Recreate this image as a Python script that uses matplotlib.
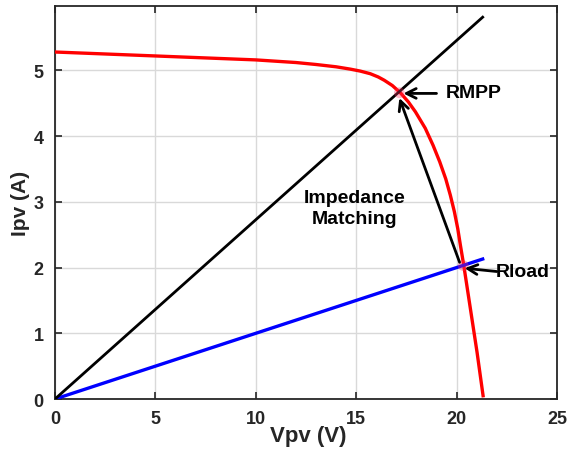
import matplotlib
matplotlib.use("Agg")
import matplotlib.pyplot as plt
import numpy as np

# ---- data ----
pv_v = [0, 5, 10, 11, 12, 13, 14, 14.7, 15.2, 15.7, 16.1, 16.4, 16.8, 17.2, 17.6, 17.95,
        18.44, 18.83, 19.16, 19.46, 19.69, 19.89, 20.06, 20.19, 20.36, 20.69, 21.02, 21.32]
pv_i = [5.28, 5.22, 5.16, 5.14, 5.12, 5.09, 5.055, 5.02, 4.99, 4.95, 4.90, 4.85, 4.77, 4.66,
        4.52, 4.37, 4.12, 3.86, 3.61, 3.35, 3.10, 2.85, 2.59, 2.34, 2.03, 1.37, 0.71, 0.05]

rmpp_v = [0, 21.3]
rmpp_i = [0, 5.81]

rload_v = [0, 21.3]
rload_i = [0, 2.13]

mpp_point = (17.15, 4.66)
load_point = (20.33, 2.03)

x_ticks = [0, 5, 10, 15, 20, 25]
y_ticks = [0, 1, 2, 3, 4, 5]

plt.rcParams['font.family'] = ['Liberation Sans', 'DejaVu Sans']
plt.rcParams['font.weight'] = 'bold'

fig = plt.figure(figsize=(5.68, 4.52), dpi=100)
ax = fig.add_axes([0.0968, 0.115, 0.8838, 0.8695])

ax.plot(pv_v, pv_i, color='#ff0000', lw=2.4, zorder=3, solid_joinstyle='round')
ax.plot(rmpp_v, rmpp_i, color='black', lw=2.0, zorder=4)
ax.plot(rload_v, rload_i, color='#0000ff', lw=2.4, zorder=3)

ax.scatter([mpp_point[0], load_point[0]], [mpp_point[1], load_point[1]],
           s=60, color='#ff3060', alpha=0.35, edgecolors='none', zorder=5)

ax.set_xlim(0, 25)
ax.set_ylim(0, 5.98)
ax.set_xticks(x_ticks)
ax.set_yticks(y_ticks)
ax.grid(True, color='#d9d9d9', lw=1.0)
ax.set_axisbelow(True)

ax.tick_params(direction='in', length=5, width=1.2, top=True, right=True,
               labelsize=13, colors='#262626', pad=8)
for lab in ax.get_xticklabels() + ax.get_yticklabels():
    lab.set_fontweight('bold')
for s in ax.spines.values():
    s.set_color('#262626')
    s.set_linewidth(1.3)

ax.set_xlabel('Vpv (V)', fontsize=16, fontweight='bold', color='#262626')
ax.xaxis.set_label_coords(0.505, -0.065)
ax.set_ylabel('Ipv (A)', fontsize=15, fontweight='bold', color='#262626')
ax.yaxis.set_label_coords(-0.05, 0.5)

arrow = dict(arrowstyle='->, head_length=0.7, head_width=0.35', color='black', lw=2.0,
             shrinkA=0, shrinkB=0)

ax.annotate('', xy=(17.15, 4.58), xytext=(20.15, 2.08), arrowprops=arrow, zorder=6)
ax.annotate('', xy=(17.35, 4.65), xytext=(19.0, 4.65), arrowprops=arrow, zorder=6)
ax.text(19.45, 4.66, 'RMPP', fontsize=14, fontweight='bold', va='center', ha='left')
ax.annotate('', xy=(20.4, 1.99), xytext=(22.0, 1.94), arrowprops=arrow, zorder=6)
ax.text(21.95, 1.94, 'Rload', fontsize=14, fontweight='bold', va='center', ha='left')
ax.text(14.9, 2.9, 'Impedance\nMatching', fontsize=14, fontweight='bold',
        ha='center', va='center', linespacing=1.3)

fig.savefig('out.png', dpi=100)
